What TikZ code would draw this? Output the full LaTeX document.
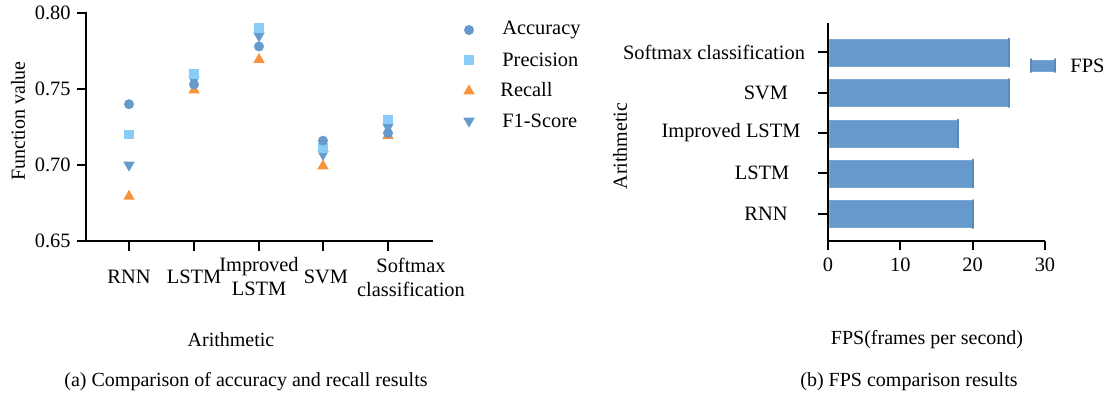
\documentclass[tikz,border=0pt]{standalone}
\usepackage{fontspec}
\setmainfont{Liberation Serif}
\usetikzlibrary{shapes.geometric}
\definecolor{AccBlue}{HTML}{6699CC}
\definecolor{PreSky}{HTML}{88CCF7}
\definecolor{RecOrange}{HTML}{F7943B}
\definecolor{FpsBlue}{HTML}{6699CC}
\tikzset{
  axisline/.style={line width=1pt, black},
  ticklabel/.style={font=\fontsize{10.2}{12}\selectfont, inner sep=0pt},
  titlelabel/.style={font=\fontsize{10}{12}\selectfont, inner sep=0pt},
  accmark/.style={circle, fill=AccBlue, inner sep=0pt, minimum size=5pt},
  premark/.style={rectangle, fill=PreSky, inner sep=0pt, minimum size=4.8pt},
  recmark/.style={regular polygon, regular polygon sides=3, fill=RecOrange,
    inner sep=0pt, minimum size=6.6pt},
  f1mark/.style={recmark, fill=AccBlue, shape border rotate=180},
  fpsbar/.style={fill=FpsBlue, draw=FpsBlue!85!white, line width=0.4pt},
  barcap/.style={draw=FpsBlue!90!black, line width=1pt, line cap=round}
}

\begin{document}
\begin{tikzpicture}[x=0.5pt, y=-0.5pt]
  \useasboundingbox (0,0) rectangle (1104,398);

  % (a) scatter of the four metrics
  \draw[axisline] (86,12) -- (86,241) -- (433,241);
  \foreach \v/\py in {0.80/13, 0.75/89, 0.70/165, 0.65/241} {
    \draw[axisline] (77,\py) -- (86,\py);
    \node[ticklabel, anchor=east] (ytick-\v) at (71,\py) {\v};
  }
  \foreach \px in {129,194,259,323,388}
    \draw[axisline] (\px,241) -- (\px,251);
  \node[ticklabel] (cat-rnn) at (129,277) {RNN};
  \node[ticklabel] (cat-lstm) at (194,277) {LSTM};
  \node[ticklabel, align=center] (cat-imp) at (259,277) {Improved\\LSTM};
  \node[ticklabel] (cat-svm) at (326,277) {SVM};
  \node[ticklabel, align=center] (cat-soft) at (411,277) {Softmax\\classification};

  % points: F1 first, accuracy on top
  \foreach \px/\acc/\pre/\rec/\fone [count=\i] in {
      129/0.740/0.720/0.680/0.700,
      194/0.753/0.760/0.750/0.756,
      259/0.778/0.790/0.770/0.785,
      323/0.716/0.711/0.700/0.707,
      388/0.721/0.730/0.720/0.725} {
    \node[f1mark] (f1-\i) at (\px,{241-1520*(\fone-0.65)}) {};
    \node[recmark] (rec-\i) at (\px,{242-1520*(\rec-0.65)}) {};
    \node[premark] (pre-\i) at (\px,{241-1520*(\pre-0.65)}) {};
    \node[accmark] (acc-\i) at (\px,{241-1520*(\acc-0.65)}) {};
  }

  % legend
  \node[accmark] (leg-acc) at (469,30) {};
  \node[premark] (leg-pre) at (469,60) {};
  \node[recmark] (leg-rec) at (469,91) {};
  \node[f1mark] (leg-f1) at (469,121) {};
  \node[ticklabel, anchor=west] at (502,30) {Accuracy};
  \node[ticklabel, anchor=west] at (502,60) {Precision};
  \node[ticklabel, anchor=west] at (500,90) {Recall};
  \node[ticklabel, anchor=west] at (502,121) {F1-Score};

  \node[titlelabel, rotate=90] (ytitle-a) at (18,121) {Function value};
  \node[titlelabel] (xtitle-a) at (231,340) {Arithmetic};
  \node[titlelabel] (cap-a) at (246,382) {(a) Comparison of accuracy and recall results};

  % (b) horizontal bars
  \foreach \py/\fps in {52.5/25, 93/25, 133.5/18, 173.5/20, 214/20} {
    \draw[fpsbar] (829,\py-13.5) rectangle ({828+7.233*\fps},\py+13.5);
    \draw[barcap] ({828+7.233*\fps},\py-14) -- ({828+7.233*\fps},\py+14);
  }
  \draw[axisline] (828,23) -- (828,241) -- (1045,241);
  \foreach \py in {52,93,133,173,214}
    \draw[axisline] (818,\py) -- (828,\py);
  \foreach \f in {0,10,20,30} {
    \draw[axisline] ({828+7.233*\f},241) -- ({828+7.233*\f},250);
    \node[ticklabel] (xtick-\f) at ({828+7.233*\f},265) {\f};
  }
  \node[ticklabel] (bar-soft) at (714,52) {Softmax classification};
  \node[ticklabel] (bar-svm) at (766,93) {SVM};
  \node[ticklabel] (bar-imp) at (731,133) {Improved LSTM};
  \node[ticklabel] (bar-lstm) at (762,173) {LSTM};
  \node[ticklabel] (bar-rnn) at (766,214) {RNN};

  % legend
  \draw[fpsbar] (1031,60) rectangle (1055,71);
  \draw[barcap] (1031,59) -- (1031,72);
  \draw[barcap] (1055,59) -- (1055,72);
  \node[ticklabel, anchor=west] (leg-fps) at (1070,65.5) {FPS};

  \node[titlelabel, rotate=90] (ytitle-b) at (620,146) {Arithmetic};
  \node[titlelabel] (xtitle-b) at (927,340) {FPS(frames per second)};
  \node[titlelabel] (cap-b) at (909,382) {(b) FPS comparison results};
\end{tikzpicture}
\end{document}
